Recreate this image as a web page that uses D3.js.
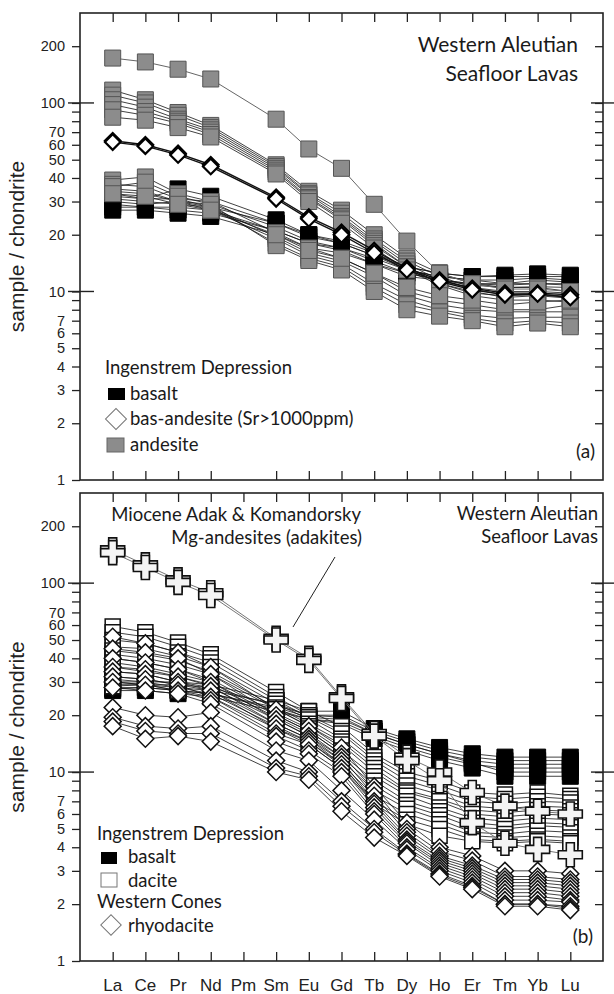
<!DOCTYPE html>
<html>
<head>
  <script src="https://d3js.org/d3.v7.min.js"></script>
  <style>
    body { margin: 0; background: #fff; }
    .tick text { font-family: "Liberation Sans", Arial, sans-serif; }
    .gill { font-family: Lato, "Open Sans", sans-serif; }
  </style>
</head>
<body>
<script>
  // REE elements (Pm has no data)
  const elements = ["La", "Ce", "Pr", "Nd", "Pm", "Sm", "Eu", "Gd", "Tb", "Dy", "Ho", "Er", "Tm", "Yb", "Lu"];
  const yTicks = [1, 2, 3, 4, 5, 6, 7, 8, 9, 10, 20, 30, 40, 50, 60, 70, 80, 90, 100, 200];
  const yLabels = [1, 2, 3, 4, 5, 6, 7, 10, 20, 30, 40, 50, 60, 70, 100, 200];

  // ---- panel (a): Ingenstrem Depression ----
  const basaltA = [
    [32, 31, 35, 32, null, 24, 20, 18.5, 16, 13.5, 12.5, 12, 12, 12, 12],
    [30, 29, 30, 29, null, 22, 18.5, 17, 15, 13, 12, 11.5, 11.5, 11.8, 11.5],
    [28, 28, 27, 26, null, 21, 18, 17, 14.5, 12.5, 11.5, 11, 11, 11, 11],
    [27, 27, 26, 25, null, 20, 17, 16, 14, 12, 11.5, 11, 10.8, 11, 10.8],
    [31, 30, 29, 28, null, 23, 19.5, 18, 15.5, 13, 12, 11.5, 11, 11.5, 11.2],
    [29, 28, 28, 27, null, 21, 18, 16.5, 14, 12.5, 11.5, 10.8, 10.5, 10.6, 10.5],
    [33, 31, 31, 30, null, 23, 20, 18, 15.5, 13.5, 12.5, 12, 12.2, 12.4, 12.2]
  ];
  const andesiteTopA = [173, 165, 151, 134, null, 82, 57, 45, 29, 18.5, 12.5, 11, 10.3, 10.3, 10];
  const andesiteA = [
    [117, 104, 89, 76, null, 47, 34, 27, 20, 15, 12.5, 11, 10.5, 10.5, 10],
    [110, 100, 86, 74, null, 46, 33, 26, 19, 14.5, 12, 10.5, 10, 10, 9.8],
    [104, 95, 82, 72, null, 45, 32.5, 25, 18.5, 14, 11.5, 10.3, 9.6, 9.7, 9.4],
    [98, 90, 80, 70, null, 44, 31.5, 24.5, 18, 13.5, 11, 10, 9.3, 9.5, 9.2],
    [92, 86, 78, 68, null, 43, 31, 24, 17.5, 13.5, 11, 9.8, 9.5, 9.6, 9.3],
    [84, 81, 74, 66, null, 42, 30, 23, 17, 13, 10.8, 9.5, 9, 9, 8.8],
    [39, 40.5, 33, 30, null, 20.5, 17, 15, 12.5, 10, 9, 8.5, 8, 8, 8.5],
    [37, 36, 31, 28, null, 19.5, 16, 14.5, 12, 9.5, 8.5, 8, 7.8, 7.8, 7.8],
    [35, 34, 30, 27, null, 19, 15.5, 14, 11, 9, 8, 7.5, 7.2, 7.3, 7.3],
    [34, 33, 30, 28, null, 18, 15, 13.5, 10.5, 8.5, 7.8, 7.2, 6.8, 7, 6.8],
    [36, 38, 32, 29, null, 17.5, 14.6, 13, 10, 8, 7.4, 7, 6.5, 6.8, 6.5],
    [33, 32, 29, 27, null, 20, 16.5, 15, 12.5, 10.5, 9.5, 9, 8.5, 8.8, 9]
  ];
  const basAndesiteA = [
    [63, 60, 54, 47, null, 31.6, 24.8, 20.6, 16.5, 13.3, 11.5, 10.4, 9.8, 9.8, 9.6],
    [62, 59, 53, 46, null, 31, 24.3, 20, 16, 13, 11.3, 10.2, 9.6, 9.7, 9.3]
  ];

  // ---- panel (b) ----
  const basaltB = [
    [31, 30, 30, 29, null, 24, 21, 21, 17, 15, 13.5, 12.5, 12, 12, 12],
    [29, 29, 28, 27, null, 23, 20, 20, 16.5, 14.5, 13, 12, 11.5, 11.5, 11.5],
    [28, 28, 27, 26, null, 22, 19.5, 19, 16, 14, 12.5, 11.5, 11, 11, 11],
    [27, 27, 26, 25, null, 21, 19, 18.5, 15.5, 13.5, 12, 11, 10.5, 10.5, 10.5],
    [30, 29, 29, 28, null, 22.5, 20, 19.5, 16, 14, 12.5, 11.2, 10, 10, 10],
    [27.5, 28, 27, 26, null, 21.5, 19, 18, 15, 13, 11.5, 10.5, 9.5, 9.5, 9.5]
  ];
  const daciteB = [
    [59, 55, 48.5, 42, null, 26.5, 21, 17.5, 12.5, 10, 9, 7.8, 7.6, 7.8, 7.5],
    [55, 52, 46, 40, null, 25, 20, 16.5, 12, 9.5, 8.5, 7.4, 7.2, 7.4, 7.2],
    [50, 48, 43, 38, null, 24, 19.5, 16, 11.5, 9, 8, 7, 6.8, 7, 6.9],
    [46, 45, 41, 36, null, 23, 19, 15, 11, 8.5, 7.6, 6.6, 6.4, 6.6, 6.5],
    [44, 42, 39, 34, null, 22, 18, 14.5, 10.5, 8, 7.2, 6.3, 6.1, 6.3, 6.2],
    [42, 40, 37, 33, null, 21.5, 17.5, 14, 10, 7.8, 7, 6, 5.8, 6, 5.9],
    [40, 38, 35, 31, null, 20.5, 17, 13, 9.5, 7.5, 6.5, 5.7, 5.5, 5.7, 5.6],
    [38, 36, 33, 30, null, 20, 16.5, 12.5, 9, 7, 6.2, 5.4, 5.2, 5.4, 5.3],
    [36, 34, 32, 29, null, 19.5, 16, 12, 8.5, 6.7, 5.9, 5.1, 5, 5.2, 5.1],
    [34, 33, 30, 28, null, 19, 15.5, 11.5, 8, 6.4, 5.6, 4.8, 4.7, 4.9, 4.8],
    [32, 31, 29, 27, null, 18, 15, 11, 7.5, 6, 5.3, 4.6, 4.5, 4.6, 4.5],
    [30, 30, 28, 26, null, 17.5, 14.5, 10.8, 7, 5.6, 5, 4.4, 4.3, 4.4, 4.3],
    [28.5, 29, 27, 25, null, 17, 14, 10.5, 6.8, 5.3, 4.6, 4.3, 4.2, 4.3, 4.2]
  ];
  const rhyodaciteB = [
    [52, 48, 43, 36, null, 21.5, 17.5, 13.5, 8.4, 5.4, 4, 3.6, 3, 3, 2.9],
    [45, 43, 40, 33, null, 20, 16.5, 12.5, 8, 5, 3.8, 3.4, 2.8, 2.8, 2.7],
    [40, 38, 35, 30, null, 19, 15.5, 12, 7.5, 4.8, 3.6, 3.2, 2.7, 2.7, 2.6],
    [36, 35, 32, 28.5, null, 18, 15, 11.5, 7, 4.6, 3.5, 3.1, 2.6, 2.6, 2.5],
    [34, 33, 30, 27, null, 17, 14.5, 11, 6.8, 4.4, 3.4, 3, 2.5, 2.5, 2.4],
    [32, 31, 29, 25, null, 16, 14, 10.5, 6.5, 4.3, 3.3, 2.9, 2.4, 2.4, 2.3],
    [30, 29, 27, 24, null, 15.5, 13, 10, 6.2, 4.2, 3.2, 2.8, 2.3, 2.3, 2.2],
    [28, 27, 26, 23, null, 14.5, 12.5, 9.5, 6, 4, 3.1, 2.7, 2.2, 2.2, 2.1],
    [22, 20, 19.5, 20.7, null, 13, 11.5, 8, 5.6, 3.9, 3, 2.6, 2.1, 2.1, 2.05],
    [19.5, 17.5, 17, 17.5, null, 11.5, 10, 7, 5, 3.7, 2.9, 2.5, 2, 2, 1.95],
    [18.5, 16.5, 16, 16, null, 10.5, 9.5, 6.6, 4.8, 3.65, 2.85, 2.45, 2, 2, 1.9],
    [17.5, 15, 15.5, 14.5, null, 10, 9.1, 6.2, 4.5, 3.6, 2.8, 2.4, 1.95, 1.95, 1.86]
  ];
  const adakiteB = [
    [150, 125, 104, 89, null, 51, 40, 25, 16, 12, 10, 7.8, 6.6, 6.2, 6.0],
    [145, 121, 101, 86, null, 50, 39, 24.5, 15.5, 11.5, 9, 5.4, 4.2, 3.9, 3.65]
  ];

  const W = 614, H = 994;
  const svg = d3.select("body").append("svg").attr("width", W).attr("height", H);

  const left = 80, right = 603;
  const x = d3.scalePoint().domain(elements).range([left, right]).padding(1);

  const pts = vals => vals.map((v, i) => ({ el: elements[i], v })).filter(d => d.v != null);

  function makePanel(top, bottom, showPm) {
    const g = svg.append("g");
    const y = d3.scaleLog().domain([1, 300]).range([bottom, top]);
    const lbl = v => yLabels.includes(v) ? v : "";
    const xt = showPm ? elements : elements.filter(e => e !== "Pm");

    // left axis, ticks outward
    g.append("g").attr("transform", `translate(${left},0)`)
      .call(d3.axisLeft(y).tickValues(yTicks).tickSize(8).tickPadding(7).tickFormat(lbl))
      .call(a => a.select(".domain").remove())
      .call(a => a.selectAll("text").attr("font-size", 14.5).attr("fill", "#222"));
    // right axis, ticks inward
    g.append("g").attr("transform", `translate(${right},0)`)
      .call(d3.axisLeft(y).tickValues(yTicks.slice(1)).tickSize(8).tickFormat(""))
      .call(a => a.select(".domain").remove());
    // top / bottom ticks, inward
    g.append("g").attr("transform", `translate(0,${top})`)
      .call(d3.axisBottom(x).tickValues(xt).tickSize(9).tickFormat(""))
      .call(a => a.select(".domain").remove());
    g.append("g").attr("transform", `translate(0,${bottom})`)
      .call(d3.axisTop(x).tickValues(xt).tickSize(9).tickFormat(""))
      .call(a => a.select(".domain").remove());
    g.selectAll(".tick line").attr("stroke", "#222").attr("stroke-width", 1.3);

    // long ticks across the frame at 10 and 100
    [10, 100].forEach(v => {
      g.append("line").attr("x1", left - 12).attr("x2", left + 14)
        .attr("y1", y(v)).attr("y2", y(v)).attr("stroke", "#222").attr("stroke-width", 1.4);
      g.append("line").attr("x1", right - 12).attr("x2", right + 11)
        .attr("y1", y(v)).attr("y2", y(v)).attr("stroke", "#222").attr("stroke-width", 1.4);
    });

    g.append("rect").attr("x", left).attr("y", top)
      .attr("width", right - left).attr("height", bottom - top)
      .attr("fill", "none").attr("stroke", "#222").attr("stroke-width", 1.6);

    g.append("text")
      .attr("transform", `translate(24,${(top + bottom) / 2}) rotate(-90)`)
      .attr("text-anchor", "middle")
      .attr("font-family", "'Liberation Sans', Arial, sans-serif")
      .attr("font-size", 21).attr("fill", "#222")
      .text("sample / chondrite");

    const line = d3.line().x(d => x(d.el)).y(d => y(d.v));
    return { g, y, line };
  }

  function drawSeries(p, series, opt) {
    const grp = p.g.append("g");
    series.forEach(s => {
      grp.append("path").datum(pts(s)).attr("d", p.line)
        .attr("fill", "none").attr("stroke", opt.lineColor || "#111")
        .attr("stroke-width", opt.lineWidth || 0.8);
    });
    series.forEach(s => {
      grp.selectAll(null).data(pts(s)).enter().append("path")
        .attr("d", d3.symbol(opt.symbol, opt.size)())
        .attr("transform", d => `translate(${x(d.el)},${p.y(d.v)})` + (opt.rotate ? " rotate(45)" : ""))
        .attr("fill", opt.fill).attr("stroke", opt.stroke)
        .attr("stroke-width", opt.strokeWidth || 1);
    });
  }

  // ---------- panel (a) ----------
  const pa = makePanel(13, 480, false);
  drawSeries(pa, basaltA, { symbol: d3.symbolSquare, size: 256, fill: "#000", stroke: "#000" });
  drawSeries(pa, andesiteA, { symbol: d3.symbolSquare, size: 256, fill: "#8c8c8c", stroke: "#555" });
  drawSeries(pa, [andesiteTopA], { symbol: d3.symbolSquare, size: 256, fill: "#8c8c8c", stroke: "#555", lineColor: "#666", lineWidth: 1 });
  drawSeries(pa, basAndesiteA, { symbol: d3.symbolSquare, size: 121, rotate: true, fill: "#fff", stroke: "#000", strokeWidth: 2.2, lineWidth: 1.4 });

  // ---------- panel (b) ----------
  const pb = makePanel(493, 961, true);
  drawSeries(pb, basaltB, { symbol: d3.symbolSquare, size: 256, fill: "#000", stroke: "#000" });
  drawSeries(pb, daciteB, { symbol: d3.symbolSquare, size: 225, fill: "#fff", stroke: "#111", strokeWidth: 1.5 });
  drawSeries(pb, rhyodaciteB, { symbol: d3.symbolSquare, size: 144, rotate: true, fill: "#fff", stroke: "#111", strokeWidth: 1.5 });
  drawSeries(pb, adakiteB, { symbol: d3.symbolCross, size: 320, fill: "#f4f4f4", stroke: "#111", strokeWidth: 1.6, lineColor: "#777", lineWidth: 1 });

  // x labels
  svg.append("g").selectAll("text").data(elements).enter().append("text")
    .attr("x", d => x(d)).attr("y", 991).attr("text-anchor", "middle")
    .attr("font-family", "'Liberation Sans', Arial, sans-serif")
    .attr("font-size", 17).attr("fill", "#222").text(d => d);

  // annotations
  function txt(xp, yp, s, size, anchor, fam) {
    return svg.append("text").attr("x", xp).attr("y", yp).attr("text-anchor", anchor || "start")
      .attr("class", fam || "gill").attr("font-size", size).attr("fill", "#1a1a1a").text(s);
  }
  txt(578, 52, "Western Aleutian", 21, "end");
  txt(578, 81, "Seafloor Lavas", 21, "end");
  txt(598, 520, "Western Aleutian", 18.5, "end");
  txt(598, 543, "Seafloor Lavas", 18.5, "end");
  txt(595, 458, "(a)", 19, "end").attr("font-family", "'Liberation Sans', Arial, sans-serif");
  txt(593, 943, "(b)", 19, "end").attr("font-family", "'Liberation Sans', Arial, sans-serif");

  txt(361, 521, "Miocene Adak & Komandorsky", 18.5, "end");
  txt(362, 544, "Mg-andesites (adakites)", 18.5, "end");
  svg.append("line").attr("x1", 335).attr("y1", 557).attr("x2", 293).attr("y2", 627)
    .attr("stroke", "#222").attr("stroke-width", 1);

  // legend (a)
  txt(105, 374, "Ingenstrem Depression", 18.5);
  svg.append("rect").attr("x", 108).attr("y", 388).attr("width", 17).attr("height", 12).attr("fill", "#000");
  txt(130, 400, "basalt", 18.5);
  svg.append("path").attr("d", d3.symbol(d3.symbolSquare, 220)()).attr("transform", "translate(116,419) rotate(45)")
    .attr("fill", "#fff").attr("stroke", "#777").attr("stroke-width", 1);
  txt(130, 425, "bas-andesite (Sr>1000ppm)", 18.5);
  svg.append("rect").attr("x", 107).attr("y", 438).attr("width", 17).attr("height", 14)
    .attr("fill", "#8c8c8c").attr("stroke", "#666").attr("stroke-width", 1);
  txt(130, 451, "andesite", 18.5);

  // legend (b)
  txt(97, 840, "Ingenstrem Depression", 18.5);
  svg.append("rect").attr("x", 101).attr("y", 852).attr("width", 16).attr("height", 12).attr("fill", "#000");
  txt(128, 863, "basalt", 18.5);
  svg.append("rect").attr("x", 101).attr("y", 873).attr("width", 16).attr("height", 14)
    .attr("fill", "#fff").attr("stroke", "#777").attr("stroke-width", 1);
  txt(128, 887, "dacite", 18.5);
  txt(97, 908, "Western Cones", 18.5);
  svg.append("path").attr("d", d3.symbol(d3.symbolSquare, 210)()).attr("transform", "translate(111,925) rotate(45)")
    .attr("fill", "#fff").attr("stroke", "#777").attr("stroke-width", 1);
  txt(128, 932, "rhyodacite", 18.5);
</script>
</body>
</html>
